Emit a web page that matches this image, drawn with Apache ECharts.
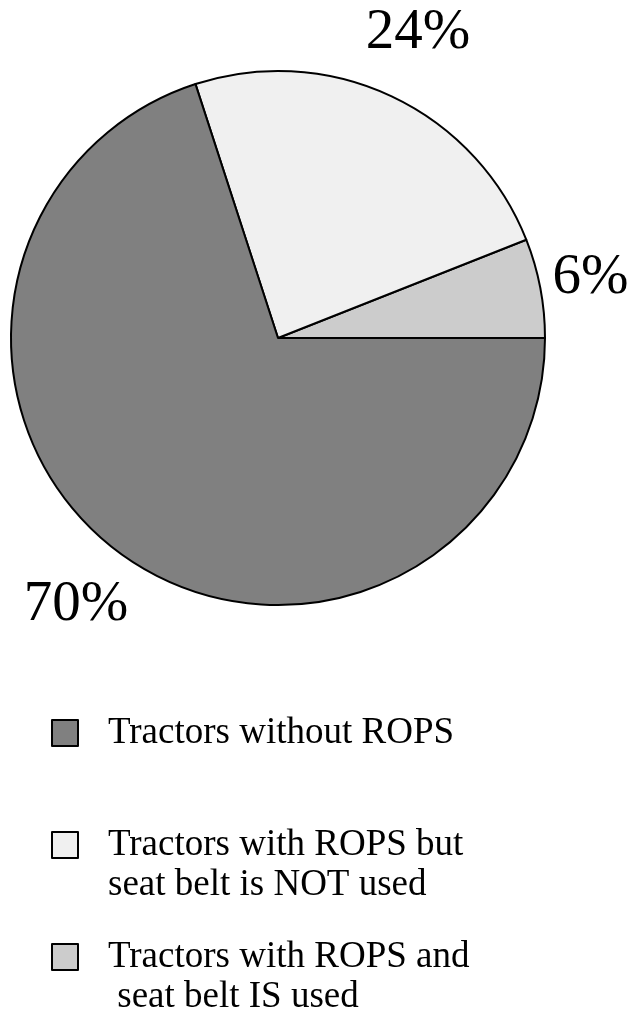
<!DOCTYPE html>
<html>
<head>
<meta charset="utf-8">
<script src="https://cdn.jsdelivr.net/npm/echarts@6/dist/echarts.min.js"></script>
<style>html,body{margin:0;padding:0;background:#fff;}#c{width:632px;height:1015px;}</style>
</head>
<body>
<div id="c"></div>
<script>
// Data (pie order: counter-clockwise from 3 o'clock)
var categories = [
  'Tractors with ROPS and seat belt IS used',
  'Tractors with ROPS but seat belt is NOT used',
  'Tractors without ROPS'
];
var values = [6, 24, 70];
// Legend order and display text
var legendOrder = [
  'Tractors without ROPS',
  'Tractors with ROPS but seat belt is NOT used',
  'Tractors with ROPS and seat belt IS used'
];
var legendLabels = {
  'Tractors without ROPS': 'Tractors without ROPS',
  'Tractors with ROPS but seat belt is NOT used': 'Tractors with ROPS but\nseat belt is NOT used',
  'Tractors with ROPS and seat belt IS used': 'Tractors with ROPS and\n seat belt IS used'
};

// Styles
var colors = ['#cccccc', '#f0f0f0', '#808080'];
var FONT = '"Liberation Serif", "Times New Roman", serif';
var CX = 278, CY = 338, R = 267;
var labelRadius = [318, 338, 330];
var labelShift = [[0, 0], [-4, 1], [-8, 0]];
var legendTops = [713, 785, 897];

var chart = echarts.init(document.getElementById('c'), null, {renderer: 'canvas'});

var total = values.reduce(function (a, b) { return a + b; }, 0);
function midAngle(i) {
  var acc = 0;
  for (var k = 0; k < i; k++) acc += values[k];
  return (acc + values[i] / 2) / total * 2 * Math.PI;
}

var legends = legendOrder.map(function (name, i) {
  var twoLine = legendLabels[name].indexOf('\n') >= 0;
  return {
    data: [name],
    left: 51,
    top: legendTops[i],
    padding: 0,
    orient: 'vertical',
    icon: 'rect',
    itemWidth: 26,
    itemHeight: 26,
    selectedMode: false,
    itemStyle: {borderColor: '#000', borderWidth: 2},
    // a leading empty line keeps the first text line level with the square
    formatter: function (n) { return (twoLine ? '\n' : '') + legendLabels[n]; },
    textStyle: {
      fontFamily: FONT,
      fontSize: 37,
      lineHeight: 40,
      color: '#000',
      padding: [0, 0, 0, 25]
    }
  };
});

chart.setOption({
  backgroundColor: '#fff',
  animation: false,
  legend: legends,
  series: [{
    type: 'pie',
    center: [CX, CY],
    radius: [0, R],
    startAngle: 0,
    clockwise: false,
    avoidLabelOverlap: false,
    emphasis: {disabled: true},
    itemStyle: {borderColor: '#000', borderWidth: 2},
    label: {
      show: true,
      position: 'outside',
      formatter: '{c}%',
      fontFamily: FONT,
      fontSize: 57,
      color: '#000'
    },
    labelLine: {show: false},
    labelLayout: function (p) {
      var a = midAngle(p.dataIndex);
      var rr = labelRadius[p.dataIndex];
      var s = labelShift[p.dataIndex];
      return {
        x: CX + Math.cos(a) * rr + s[0],
        y: CY - Math.sin(a) * rr + s[1],
        align: 'center',
        verticalAlign: 'middle'
      };
    },
    data: categories.map(function (c, i) {
      return {name: c, value: values[i], itemStyle: {color: colors[i]}};
    })
  }]
});
</script>
</body>
</html>
